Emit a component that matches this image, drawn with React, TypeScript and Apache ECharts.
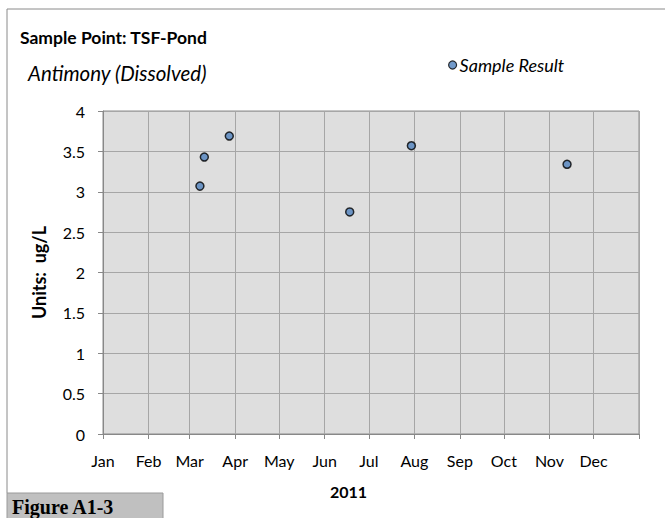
import React, { useEffect, useRef } from "react";
import * as echarts from "echarts";

// ---- data ----
const sampleDates: string[] = ["2011-03-08", "2011-03-11", "2011-03-28", "2011-06-18", "2011-07-30", "2011-11-13"];
const sampleValues: number[] = [3.07, 3.43, 3.69, 2.75, 3.57, 3.34];
const monthLabels: string[] = ["Jan", "Feb", "Mar", "Apr", "May", "Jun", "Jul", "Aug", "Sep", "Oct", "Nov", "Dec"];
const yearLabel = "2011";
const titleText = "Sample Point: TSF-Pond";
const subtitleText = "Antimony (Dissolved)";
const seriesName = "Sample Result";
const yAxisName = "Units:  ug/L";
const figureLabel = "Figure A1-3";

const YEAR = 2011;
const DAY = 86400000;
const dayOfYear = (iso: string): number => {
  const [y, m, d] = iso.split("-").map(Number);
  return (Date.UTC(y, m - 1, d) - Date.UTC(YEAR, 0, 1)) / DAY;
};
const monthStarts: number[] = monthLabels.map((_, i) => (Date.UTC(YEAR, i, 1) - Date.UTC(YEAR, 0, 1)) / DAY);
const yearEnd = (Date.UTC(YEAR + 1, 0, 1) - Date.UTC(YEAR, 0, 1)) / DAY;

const FONT = "Lato, 'Open Sans', sans-serif";

export default function App() {
  const ref = useRef<HTMLDivElement>(null);
  useEffect(() => {
    if (!ref.current) return;
    const chart = echarts.init(ref.current, null, { renderer: "svg" });
    const gridLeft = 103, gridTop = 111, gridW = 536, gridH = 323;
    chart.setOption({
      animation: false,
      backgroundColor: "#ffffff",
      textStyle: { fontFamily: FONT, color: "#000" },
      grid: {
        left: gridLeft, top: gridTop, width: gridW, height: gridH,
        show: true, backgroundColor: "#dedede", borderColor: "#8c8c8c", borderWidth: 1,
      },
      legend: {
        left: 443, top: 51, itemWidth: 8, itemHeight: 8, icon: "circle",
        data: [{ name: seriesName, itemStyle: { color: "#4f81bd", borderColor: "#000", borderWidth: 1.2 } }],
        textStyle: { fontFamily: FONT, fontStyle: "italic", fontSize: 18, color: "#000", padding: [0, 0, 0, -2] },
        itemGap: 4,
      },
      xAxis: {
        type: "value", min: 0, max: yearEnd,
        axisLine: { show: true, lineStyle: { color: "#888", width: 1 } },
        axisTick: { show: true, length: 5, lineStyle: { color: "#888" }, customValues: monthStarts.concat([yearEnd]) },
        axisLabel: {
          customValues: monthStarts, fontSize: 16, color: "#000", fontFamily: FONT, margin: 18,
          formatter: (v: number) => monthLabels[monthStarts.indexOf(Math.round(v))] ?? "",
        },
        splitLine: { show: true, lineStyle: { color: "#a6a6a6", width: 1 } },
      },
      yAxis: {
        type: "value", min: 0, max: 4, interval: 0.5,
        name: yAxisName, nameLocation: "middle", nameGap: 55, nameRotate: 90,
        nameTextStyle: { fontFamily: FONT, fontWeight: "bold", fontSize: 18, color: "#000" },
        axisLine: { show: true, lineStyle: { color: "#888" } },
        axisTick: { show: true, length: 5, lineStyle: { color: "#888" } },
        axisLabel: { fontSize: 16, color: "#000", fontFamily: FONT, margin: 18 },
        splitLine: { show: true, lineStyle: { color: "#a6a6a6", width: 1 } },
      },
      series: [
        {
          name: seriesName, type: "scatter", symbol: "circle", symbolSize: 8,
          itemStyle: { color: "#4f81bd", borderColor: "#000", borderWidth: 1.5 },
          data: sampleDates.map((d, i) => [dayOfYear(d), sampleValues[i]]),
        },
      ],
      graphic: [
        { type: "line", shape: { x1: 7, y1: 9, x2: 665, y2: 9 }, style: { stroke: "#8a8a8a", lineWidth: 1 } },
        { type: "line", shape: { x1: 7, y1: 9, x2: 7, y2: 493 }, style: { stroke: "#8a8a8a", lineWidth: 1 } },
        { type: "text", left: 20, top: 28, style: { text: titleText, font: `bold 17.5px ${FONT}`, fill: "#000" } },
        { type: "text", left: 28, top: 63, style: { text: subtitleText, font: `italic 20.5px ${FONT}`, fill: "#000" } },
        { type: "text", left: 330, top: 483, style: { text: yearLabel, font: `bold 16px ${FONT}`, fill: "#000" } },
        { type: "rect", shape: { x: 7, y: 493, width: 156, height: 30 }, style: { fill: "#c0c0c0", stroke: "#9a9a9a", lineWidth: 1 } },
        { type: "text", left: 12, top: 497, style: { text: figureLabel, font: "bold 20px 'Liberation Serif', 'DejaVu Serif', serif", fill: "#000" } },
      ],
    });
    return () => chart.dispose();
  }, []);
  return <div ref={ref} style={{ position: "fixed", left: 0, top: 0, width: 665, height: 518 }} />;
}
